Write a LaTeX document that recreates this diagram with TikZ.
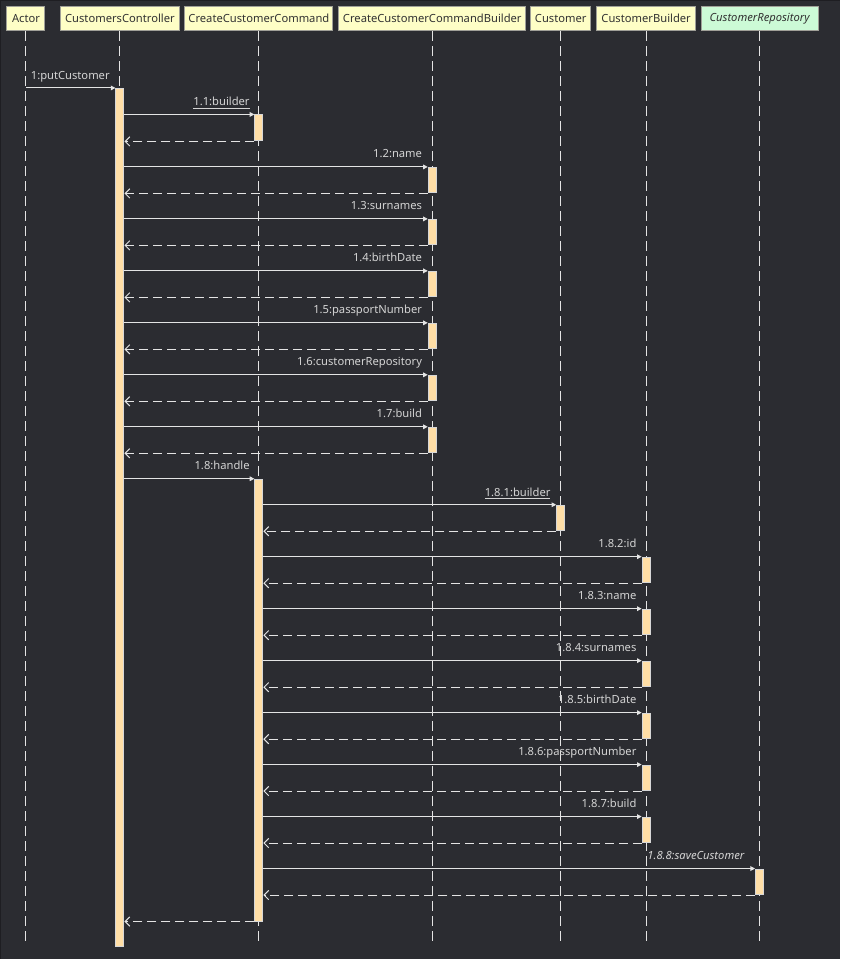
\documentclass[tikz,border=0pt]{standalone}
\usepackage{fontspec}
\setmainfont{Noto Sans}
\usetikzlibrary{arrows.meta}
\definecolor{bg}{RGB}{43,44,49}
\definecolor{frameline}{RGB}{30,30,34}
\definecolor{hdfill}{RGB}{254,254,198}
\definecolor{hdgreen}{RGB}{204,250,214}
\definecolor{hdborder}{RGB}{160,160,152}
\definecolor{hdtext}{RGB}{50,50,50}
\definecolor{barfill}{RGB}{255,222,166}
\definecolor{barborder}{RGB}{215,215,215}
\definecolor{ln}{RGB}{228,228,228}
\definecolor{lbltext}{RGB}{212,212,212}
\begin{document}
\begin{tikzpicture}[x=0.75pt,y=-0.75pt,
  head/.style={draw=hdborder, fill=hdfill, text=hdtext, minimum height=25*0.75pt, inner sep=0pt, line width=0.75pt, font=\fontsize{8.4}{10}\selectfont},
  life/.style={draw=ln, line width=0.75pt, dash pattern=on 7.5pt off 3.75pt},
  bar/.style={draw=barborder, fill=barfill, minimum width=8*0.75pt, inner sep=0pt, anchor=north, line width=0.75pt},
  call/.style={draw=ln, line width=0.75pt, -{Triangle[length=3.5pt,width=3.5pt]}},
  ret/.style={draw=ln, line width=0.75pt, dash pattern=on 6.75pt off 3.75pt, -{Straight Barb[length=3.5pt,width=7pt]}},
  lbl/.style={text=lbltext, inner sep=0pt, anchor=base east, font=\fontsize{8.4}{10}\selectfont}]
\fill[bg] (0,0) rectangle (840,959);
\draw[frameline, line width=0.75pt] (0.5,959) -- (0.5,0.5) -- (840,0.5);
\useasboundingbox (0,0) rectangle (840,959);
% headers
\node[head, minimum width=38*0.75pt] (actor) at (26,18.5) {Actor};
\node[head, minimum width=119*0.75pt] (cc) at (120,18.5) {CustomersController};
\node[head, minimum width=148*0.75pt] (ccc) at (259,18.5) {CreateCustomerCommand};
\node[head, minimum width=187*0.75pt] (cccb) at (432.5,18.5) {CreateCustomerCommandBuilder};
\node[head, minimum width=60*0.75pt] (cust) at (561,18.5) {Customer};
\node[head, minimum width=99*0.75pt] (cb) at (646.5,18.5) {CustomerBuilder};
\node[head, fill=hdgreen, minimum width=117*0.75pt, font=\fontsize{8.4}{10}\selectfont\itshape] (cr) at (760,18.5) {CustomerRepository};
% lifelines
\coordinate (lend) at (0,945);
\foreach \n in {actor,cc,ccc,cccb,cust,cb,cr}{
  \draw[life] (\n.south) -- (\n.south |- lend);
}
% activation bars
\node[bar, minimum height=858*0.75pt] (bcc) at (120,88) {};
\node[bar, minimum height=26*0.75pt] (b11) at (259,114.5) {};
\node[bar, minimum height=25.5*0.75pt] (b12) at (432.5,167) {};
\node[bar, minimum height=25.5*0.75pt] (b13) at (432.5,219) {};
\node[bar, minimum height=25.5*0.75pt] (b14) at (432.5,271) {};
\node[bar, minimum height=25.5*0.75pt] (b15) at (432.5,323) {};
\node[bar, minimum height=25.5*0.75pt] (b16) at (432.5,375) {};
\node[bar, minimum height=25.5*0.75pt] (b17) at (432.5,427) {};
\node[bar, minimum height=442*0.75pt] (b18) at (259,479) {};
\node[bar, minimum height=25.5*0.75pt] (b181) at (561,505) {};
\node[bar, minimum height=25.5*0.75pt] (b182) at (646.5,557) {};
\node[bar, minimum height=25.5*0.75pt] (b183) at (646.5,609) {};
\node[bar, minimum height=25.5*0.75pt] (b184) at (646.5,661) {};
\node[bar, minimum height=25.5*0.75pt] (b185) at (646.5,713) {};
\node[bar, minimum height=25.5*0.75pt] (b186) at (646.5,765) {};
\node[bar, minimum height=25.5*0.75pt] (b187) at (646.5,817) {};
\node[bar, minimum height=25.5*0.75pt] (b188) at (760,869) {};
% messages
\draw[call] (actor.south |- bcc.north) -- (bcc.north west);
\node[lbl] (l1) at (110,80) {1:putCustomer};
\draw[call] (bcc.east |- b11.north) -- (b11.north west);
\draw[ret] (b11.south west) -- (bcc.east |- b11.south);
\node[lbl] (l11) at (250,106) {\underline{1.1:builder}};
\foreach \b/\t in {b12/1.2:name, b13/1.3:surnames, b14/1.4:birthDate, b15/1.5:passportNumber, b16/1.6:customerRepository, b17/1.7:build}{
  \draw[call] (bcc.east |- \b.north) -- (\b.north west);
  \draw[ret] (\b.south west) -- (bcc.east |- \b.south);
  \node[lbl] at ([xshift=-5.5*0.75pt, yshift=9*0.75pt]\b.north west) {\t};
}
\draw[call] (bcc.east |- b18.north) -- (b18.north west);
\node[lbl] (l18) at (250,470) {1.8:handle};
\draw[call] (b18.east |- b181.north) -- (b181.north west);
\draw[ret] (b181.south west) -- (b18.east |- b181.south);
\node[lbl] (l181) at (551,496.5) {\underline{1.8.1:builder}};
\foreach \b/\t in {b182/1.8.2:id, b183/1.8.3:name, b184/1.8.4:surnames, b185/1.8.5:birthDate, b186/1.8.6:passportNumber, b187/1.8.7:build}{
  \draw[call] (b18.east |- \b.north) -- (\b.north west);
  \draw[ret] (\b.south west) -- (b18.east |- \b.south);
  \node[lbl] at ([xshift=-5*0.75pt, yshift=9*0.75pt]\b.north west) {\t};
}
\draw[call] (b18.east |- b188.north) -- (b188.north west);
\draw[ret] (b188.south west) -- (b18.east |- b188.south);
\node[lbl, font=\fontsize{8.4}{10}\selectfont\itshape] (l188) at (745,860) {1.8.8:saveCustomer};
\draw[ret] (b18.south west) -- (bcc.east |- b18.south);
\end{tikzpicture}
\end{document}
